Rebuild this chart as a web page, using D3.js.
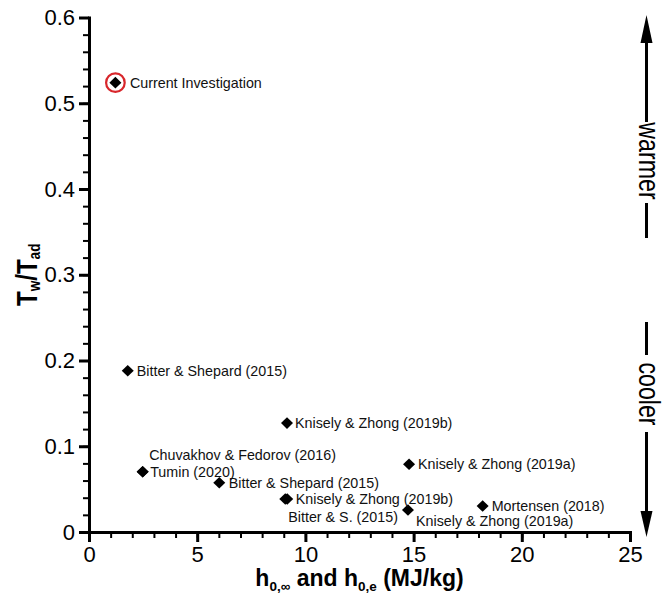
<!DOCTYPE html>
<html>
<head>
<meta charset="utf-8">
<script src="https://cdn.jsdelivr.net/npm/d3@7"></script>
<style>
  body { margin: 0; background: #fff; }
  svg { display: block; font-family: "Liberation Sans", Arial, Helvetica, sans-serif; }
</style>
</head>
<body>
<div id="chart"></div>
<script>
// Data
var studies = ["Current Investigation", "Bitter & Shepard (2015)", "Knisely & Zhong (2019b)",
               "Knisely & Zhong (2019a)", "Tumin (2020)", "Chuvakhov & Fedorov (2016)",
               "Bitter & Shepard (2015)", "Bitter & S. (2015)", "Knisely & Zhong (2019b)",
               "Knisely & Zhong (2019a)", "Mortensen (2018)"];
var enthalpy = [1.22, 1.79, 9.15, 14.79, 2.48, 2.48, 6.02, 9.07, 9.16, 14.74, 18.19];
var tempRatio = [0.524, 0.188, 0.127, 0.079, 0.0703, 0.0703, 0.0575, 0.0385, 0.0385, 0.0256, 0.0303];
var highlighted = ["Current Investigation"];

var xMajorTicks = [0, 5, 10, 15, 20, 25];
var xMinorTicks = d3.range(0, 26, 1);
var yMajorTicks = [0, 0.1, 0.2, 0.3, 0.4, 0.5, 0.6];
var yMinorTicks = d3.range(0, 0.601, 0.02);

// label placement, pixels from the marker
var labelDx = [14.5, 9, 8, 9, 7.5, 6.5, 9.5, 3, 8.5, 8, 9];
var labelDy = [0, 0, 0, 0, 0, -17, 0, 17.5, 0, 10.5, -0.5];

var width = 665, height = 594;
var margin = {top: 17.5, right: 35, bottom: 62, left: 89};

var svg = d3.select("#chart")
  .append("svg")
    .attr("width", width)
    .attr("height", height);

var x = d3.scaleLinear()
  .domain([0, 25])
  .range([margin.left, width - margin.right]);

var y = d3.scaleLinear()
  .domain([0, 0.6])
  .range([height - margin.bottom, margin.top]);

// minor ticks first, then major axes on top
svg.append("g")
  .attr("transform", `translate(0,${y(0)})`)
  .call(d3.axisBottom(x).tickValues(xMinorTicks).tickSize(6).tickSizeOuter(0).tickFormat(""))
  .call(g => g.select(".domain").remove())
  .call(g => g.selectAll("line").attr("stroke-width", 2));

svg.append("g")
  .attr("transform", `translate(${x(0)},0)`)
  .call(d3.axisLeft(y).tickValues(yMinorTicks).tickSize(6).tickSizeOuter(0).tickFormat(""))
  .call(g => g.select(".domain").remove())
  .call(g => g.selectAll("line").attr("stroke-width", 2));

var xAxis = svg.append("g")
  .attr("transform", `translate(0,${y(0)})`)
  .call(d3.axisBottom(x).tickValues(xMajorTicks).tickSize(10).tickSizeOuter(0).tickPadding(4));

var yAxis = svg.append("g")
  .attr("transform", `translate(${x(0)},0)`)
  .call(d3.axisLeft(y).tickValues(yMajorTicks).tickSize(10).tickSizeOuter(0).tickPadding(4)
    .tickFormat(d => d === 0 ? "0" : d.toFixed(1)));

[xAxis, yAxis].forEach(function(g) {
  g.select(".domain").attr("stroke-width", 3).attr("stroke-linecap", "square");
  g.selectAll(".tick line").attr("stroke-width", 3);
  g.selectAll(".tick text")
    .style("font-family", "'Liberation Sans', Arial, sans-serif")
    .style("font-size", "22px")
    .attr("fill", "#000");
});

// Axis titles
var xTitle = svg.append("text")
  .attr("x", (x(0) + x(25)) / 2)
  .attr("y", 585.5)
  .attr("text-anchor", "middle")
  .style("font-size", "23px")
  .style("font-weight", "bold");
xTitle.append("tspan").text("h");
xTitle.append("tspan").attr("dy", 5).style("font-size", "13.5px").text("0,\u221e");
xTitle.append("tspan").attr("dy", -5).text(" and h");
xTitle.append("tspan").attr("dy", 5).style("font-size", "13.5px").text("0,e");
xTitle.append("tspan").attr("dy", -5).text(" (MJ/kg)");

var yTitle = svg.append("text")
  .attr("transform", `translate(37,${(y(0) + y(0.6)) / 2}) rotate(-90) scale(0.8,1)`)
  .attr("text-anchor", "middle")
  .style("font-size", "30px")
  .style("font-weight", "bold");
yTitle.append("tspan").text("T");
yTitle.append("tspan").attr("dy", 3).style("font-size", "17px").text("w");
yTitle.append("tspan").attr("dy", -3).text("/T");
yTitle.append("tspan").attr("dy", 3).style("font-size", "17px").text("ad");

// Warmer / cooler annotation
var arrowX = 646.5;
var note = svg.append("g").attr("stroke", "#000").attr("stroke-width", 3);
note.append("line").attr("x1", arrowX).attr("x2", arrowX).attr("y1", 122).attr("y2", 40);
note.append("line").attr("x1", arrowX).attr("x2", arrowX).attr("y1", 203).attr("y2", 238);
note.append("line").attr("x1", arrowX).attr("x2", arrowX).attr("y1", 322).attr("y2", 355);
note.append("line").attr("x1", arrowX).attr("x2", arrowX).attr("y1", 432).attr("y2", 515);
svg.append("path")
  .attr("d", `M${arrowX},15 L${arrowX + 6},43 L${arrowX - 6},43 Z`)
  .attr("fill", "#000");
svg.append("path")
  .attr("d", `M${arrowX},537 L${arrowX + 6},511 L${arrowX - 6},511 Z`)
  .attr("fill", "#000");

[["warmer", 161], ["cooler", 394]].forEach(function(t) {
  svg.append("text")
    .attr("transform", `translate(${arrowX - 7.5},${t[1]}) rotate(90) scale(0.8,1)`)
    .attr("text-anchor", "middle")
    .style("font-size", "29px")
    .text(t[0]);
});

// Markers
var points = studies.map(function(s, i) {
  return {name: s, x: enthalpy[i], y: tempRatio[i], dx: labelDx[i], dy: labelDy[i]};
});

svg.selectAll(".ring")
  .data(points.filter(d => highlighted.indexOf(d.name) >= 0))
  .join("circle")
    .attr("class", "ring")
    .attr("cx", d => x(d.x))
    .attr("cy", d => y(d.y))
    .attr("r", 9.3)
    .attr("fill", "none")
    .attr("stroke", "#d8262b")
    .attr("stroke-width", 2.2);

svg.selectAll(".marker")
  .data(points)
  .join("path")
    .attr("class", "marker")
    .attr("transform", d => `translate(${x(d.x)},${y(d.y)})`)
    .attr("d", "M0,-5.8 L6,0 L0,5.8 L-6,0 Z")
    .attr("fill", "#000");

svg.selectAll(".label")
  .data(points)
  .join("text")
    .attr("class", "label")
    .attr("x", d => x(d.x) + d.dx)
    .attr("y", d => y(d.y) + d.dy)
    .attr("dy", "0.36em")
    .style("font-size", "14.3px")
    .attr("fill", "#111")
    .text(d => d.name);
</script>
</body>
</html>
